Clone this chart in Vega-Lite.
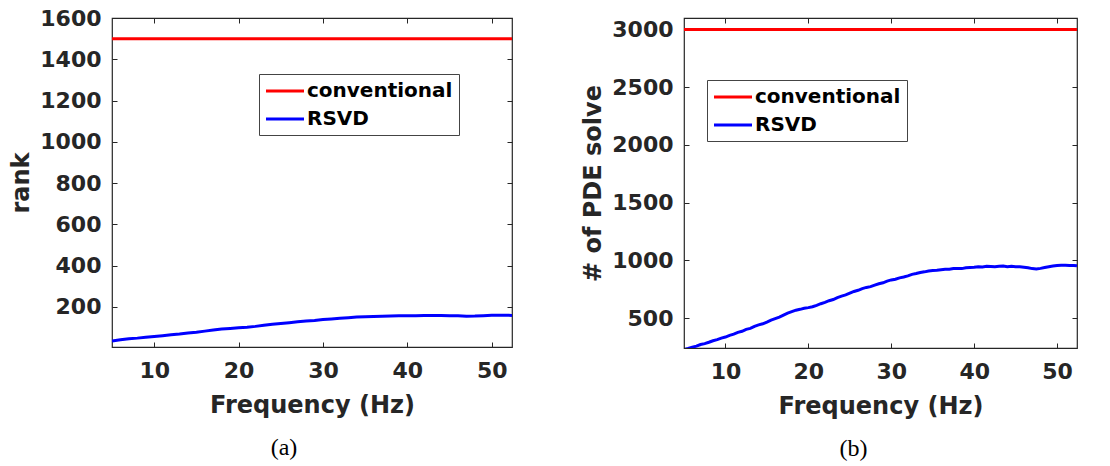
{
  "$schema": "https://vega.github.io/schema/vega-lite/v6.json",
  "background": "white",
  "padding": {"left": 9, "top": 6, "right": 5, "bottom": 5},
  "config": {
    "font": "DejaVu Sans",
    "view": {"stroke": "#262626", "strokeWidth": 1.2},
    "axis": {
      "labelFont": "DejaVu Sans", "labelFontWeight": "bold", "labelFontSize": 22, "labelColor": "#262626",
      "titleFont": "DejaVu Sans", "titleFontWeight": "bold", "titleFontSize": 24, "titleColor": "#262626",
      "grid": false, "domain": false, "tickColor": "#262626", "tickSize": -5, "tickWidth": 1, "labelPadding": 8, "format": "d"
    },
    "legend": {
      "orient": "none", "title": null, "symbolType": "M-2,0H2", "symbolSize": 361, "symbolStrokeWidth": 3,
      "symbolOffset": 9,
      "labelFont": "DejaVu Sans", "labelFontWeight": "bold", "labelFontSize": 20, "labelColor": "#000000",
      "labelOffset": 11, "strokeColor": "#444444", "fillColor": "white", "padding": 6, "rowPadding": 7
    }
  },
  "spacing": 65,
  "resolve": {"scale": {"color": "independent"}, "legend": {"color": "independent"}},
  "hconcat": [
    {
      "width": 400, "height": 329,
      "title": {"text": "(a)", "orient": "bottom", "font": "Liberation Serif", "fontSize": 24, "fontWeight": "normal", "color": "black", "offset": 19, "dx": -28},
      "data": {"values": [
        {"f": 5, "v": 1500, "s": "conventional"}, {"f": 52.4, "v": 1500, "s": "conventional"},
        {"f": 5, "v": 34, "s": "RSVD"}, {"f": 6, "v": 40, "s": "RSVD"}, {"f": 7, "v": 45, "s": "RSVD"}, {"f": 8, "v": 48, "s": "RSVD"},
        {"f": 9, "v": 52, "s": "RSVD"}, {"f": 10, "v": 56, "s": "RSVD"}, {"f": 11, "v": 60, "s": "RSVD"}, {"f": 12, "v": 64, "s": "RSVD"},
        {"f": 13, "v": 68, "s": "RSVD"}, {"f": 14, "v": 73, "s": "RSVD"}, {"f": 15, "v": 77, "s": "RSVD"}, {"f": 16, "v": 82, "s": "RSVD"},
        {"f": 17, "v": 87, "s": "RSVD"}, {"f": 18, "v": 92, "s": "RSVD"}, {"f": 19, "v": 95, "s": "RSVD"}, {"f": 20, "v": 98, "s": "RSVD"},
        {"f": 21, "v": 101, "s": "RSVD"}, {"f": 22, "v": 105, "s": "RSVD"}, {"f": 23, "v": 110, "s": "RSVD"}, {"f": 24, "v": 115, "s": "RSVD"},
        {"f": 25, "v": 119, "s": "RSVD"}, {"f": 26, "v": 123, "s": "RSVD"}, {"f": 27, "v": 127, "s": "RSVD"}, {"f": 28, "v": 131, "s": "RSVD"},
        {"f": 29, "v": 134, "s": "RSVD"}, {"f": 30, "v": 138, "s": "RSVD"}, {"f": 31, "v": 141, "s": "RSVD"}, {"f": 32, "v": 144, "s": "RSVD"},
        {"f": 33, "v": 147, "s": "RSVD"}, {"f": 34, "v": 150, "s": "RSVD"}, {"f": 35, "v": 152, "s": "RSVD"}, {"f": 36, "v": 153, "s": "RSVD"},
        {"f": 37, "v": 154, "s": "RSVD"}, {"f": 38, "v": 155, "s": "RSVD"}, {"f": 39, "v": 156, "s": "RSVD"}, {"f": 40, "v": 157, "s": "RSVD"},
        {"f": 41, "v": 157, "s": "RSVD"}, {"f": 42, "v": 158, "s": "RSVD"}, {"f": 43, "v": 158, "s": "RSVD"}, {"f": 44, "v": 158, "s": "RSVD"},
        {"f": 45, "v": 157, "s": "RSVD"}, {"f": 46, "v": 156, "s": "RSVD"}, {"f": 47, "v": 154, "s": "RSVD"}, {"f": 48, "v": 155, "s": "RSVD"},
        {"f": 49, "v": 157, "s": "RSVD"}, {"f": 50, "v": 159, "s": "RSVD"}, {"f": 51, "v": 159, "s": "RSVD"}, {"f": 52, "v": 159, "s": "RSVD"},
        {"f": 52.4, "v": 158, "s": "RSVD"}
      ]},
      "layer": [
        {
          "mark": {"type": "line", "strokeWidth": 3, "clip": true},
          "encoding": {
            "x": {"field": "f", "type": "quantitative", "title": "Frequency (Hz)",
                  "scale": {"domain": [5, 52.4], "nice": false, "zero": false},
                  "axis": {"values": [10, 20, 30, 40, 50], "labelPadding": 18, "titlePadding": 12}},
            "y": {"field": "v", "type": "quantitative", "title": "rank",
                  "scale": {"domain": [5, 1600], "nice": false, "zero": false},
                  "axis": {"values": [200, 400, 600, 800, 1000, 1200, 1400, 1600], "labelPadding": 16, "titlePadding": 6}},
            "color": {"field": "s", "type": "nominal", "sort": ["conventional", "RSVD"],
                      "scale": {"domain": ["conventional", "RSVD"], "range": ["#ff0000", "#0000ff"]},
                      "legend": {"legendX": 147, "legendY": 56}}
          }
        },
        {
          "mark": {"type": "point", "opacity": 0},
          "encoding": {
            "x": {"field": "f", "type": "quantitative", "title": null,
                  "axis": {"orient": "top", "labels": false, "values": [10, 20, 30, 40, 50]}},
            "y": {"field": "v", "type": "quantitative", "title": null,
                  "axis": {"orient": "right", "labels": false, "values": [200, 400, 600, 800, 1000, 1200, 1400, 1600]}}
          }
        }
      ],
      "resolve": {"axis": {"x": "independent", "y": "independent"}}
    },
    {
      "width": 393, "height": 330,
      "title": {"text": "(b)", "orient": "bottom", "font": "Liberation Serif", "fontSize": 24, "fontWeight": "normal", "color": "black", "offset": 19, "dx": -27},
      "data": {"values": [
        {"f": 5, "v": 3000, "s": "conventional"}, {"f": 52.4, "v": 3000, "s": "conventional"},
        {"f": 5, "v": 225, "s": "RSVD"}, {"f": 5.5, "v": 236, "s": "RSVD"}, {"f": 6, "v": 248, "s": "RSVD"}, {"f": 6.5, "v": 256, "s": "RSVD"},
        {"f": 7, "v": 270, "s": "RSVD"}, {"f": 7.5, "v": 278, "s": "RSVD"}, {"f": 8, "v": 290, "s": "RSVD"}, {"f": 8.5, "v": 303, "s": "RSVD"},
        {"f": 9, "v": 312, "s": "RSVD"}, {"f": 9.5, "v": 326, "s": "RSVD"}, {"f": 10, "v": 335, "s": "RSVD"}, {"f": 10.5, "v": 350, "s": "RSVD"},
        {"f": 11, "v": 360, "s": "RSVD"}, {"f": 11.5, "v": 376, "s": "RSVD"}, {"f": 12, "v": 385, "s": "RSVD"}, {"f": 12.5, "v": 402, "s": "RSVD"},
        {"f": 13, "v": 410, "s": "RSVD"}, {"f": 13.5, "v": 428, "s": "RSVD"}, {"f": 14, "v": 440, "s": "RSVD"}, {"f": 14.5, "v": 450, "s": "RSVD"},
        {"f": 15, "v": 465, "s": "RSVD"}, {"f": 15.5, "v": 482, "s": "RSVD"}, {"f": 16, "v": 495, "s": "RSVD"}, {"f": 16.5, "v": 508, "s": "RSVD"},
        {"f": 17, "v": 525, "s": "RSVD"}, {"f": 17.5, "v": 542, "s": "RSVD"}, {"f": 18, "v": 555, "s": "RSVD"}, {"f": 18.5, "v": 568, "s": "RSVD"},
        {"f": 19, "v": 575, "s": "RSVD"}, {"f": 19.5, "v": 584, "s": "RSVD"}, {"f": 20, "v": 590, "s": "RSVD"}, {"f": 20.5, "v": 598, "s": "RSVD"},
        {"f": 21, "v": 610, "s": "RSVD"}, {"f": 21.5, "v": 624, "s": "RSVD"}, {"f": 22, "v": 635, "s": "RSVD"}, {"f": 22.5, "v": 650, "s": "RSVD"},
        {"f": 23, "v": 660, "s": "RSVD"}, {"f": 23.5, "v": 677, "s": "RSVD"}, {"f": 24, "v": 690, "s": "RSVD"}, {"f": 24.5, "v": 700, "s": "RSVD"},
        {"f": 25, "v": 715, "s": "RSVD"}, {"f": 25.5, "v": 730, "s": "RSVD"}, {"f": 26, "v": 740, "s": "RSVD"}, {"f": 26.5, "v": 755, "s": "RSVD"},
        {"f": 27, "v": 765, "s": "RSVD"}, {"f": 27.5, "v": 772, "s": "RSVD"}, {"f": 28, "v": 785, "s": "RSVD"}, {"f": 28.5, "v": 797, "s": "RSVD"},
        {"f": 29, "v": 805, "s": "RSVD"}, {"f": 29.5, "v": 820, "s": "RSVD"}, {"f": 30, "v": 830, "s": "RSVD"}, {"f": 30.5, "v": 836, "s": "RSVD"},
        {"f": 31, "v": 848, "s": "RSVD"}, {"f": 31.5, "v": 855, "s": "RSVD"}, {"f": 32, "v": 865, "s": "RSVD"}, {"f": 32.5, "v": 878, "s": "RSVD"},
        {"f": 33, "v": 885, "s": "RSVD"}, {"f": 33.5, "v": 894, "s": "RSVD"}, {"f": 34, "v": 900, "s": "RSVD"}, {"f": 34.5, "v": 908, "s": "RSVD"},
        {"f": 35, "v": 912, "s": "RSVD"}, {"f": 35.5, "v": 914, "s": "RSVD"}, {"f": 36, "v": 918, "s": "RSVD"}, {"f": 36.5, "v": 922, "s": "RSVD"},
        {"f": 37, "v": 922, "s": "RSVD"}, {"f": 37.5, "v": 928, "s": "RSVD"}, {"f": 38, "v": 930, "s": "RSVD"}, {"f": 38.5, "v": 928, "s": "RSVD"},
        {"f": 39, "v": 935, "s": "RSVD"}, {"f": 39.5, "v": 938, "s": "RSVD"}, {"f": 40, "v": 940, "s": "RSVD"}, {"f": 40.5, "v": 945, "s": "RSVD"},
        {"f": 41, "v": 943, "s": "RSVD"}, {"f": 41.5, "v": 948, "s": "RSVD"}, {"f": 42, "v": 946, "s": "RSVD"}, {"f": 42.5, "v": 944, "s": "RSVD"},
        {"f": 43, "v": 948, "s": "RSVD"}, {"f": 43.5, "v": 950, "s": "RSVD"}, {"f": 44, "v": 945, "s": "RSVD"}, {"f": 44.5, "v": 948, "s": "RSVD"},
        {"f": 45, "v": 945, "s": "RSVD"}, {"f": 45.5, "v": 944, "s": "RSVD"}, {"f": 46, "v": 940, "s": "RSVD"}, {"f": 46.5, "v": 935, "s": "RSVD"},
        {"f": 47, "v": 928, "s": "RSVD"}, {"f": 47.5, "v": 925, "s": "RSVD"}, {"f": 48, "v": 930, "s": "RSVD"}, {"f": 48.5, "v": 938, "s": "RSVD"},
        {"f": 49, "v": 945, "s": "RSVD"}, {"f": 49.5, "v": 950, "s": "RSVD"}, {"f": 50, "v": 955, "s": "RSVD"}, {"f": 50.5, "v": 958, "s": "RSVD"},
        {"f": 51, "v": 958, "s": "RSVD"}, {"f": 51.5, "v": 955, "s": "RSVD"}, {"f": 52, "v": 955, "s": "RSVD"}, {"f": 52.4, "v": 952, "s": "RSVD"}
      ]},
      "layer": [
        {
          "mark": {"type": "line", "strokeWidth": 3, "clip": true},
          "encoding": {
            "x": {"field": "f", "type": "quantitative", "title": "Frequency (Hz)",
                  "scale": {"domain": [5, 52.4], "nice": false, "zero": false},
                  "axis": {"values": [10, 20, 30, 40, 50], "labelPadding": 18, "titlePadding": 12}},
            "y": {"field": "v", "type": "quantitative", "title": "# of PDE solve",
                  "scale": {"domain": [240, 3100], "nice": false, "zero": false},
                  "axis": {"values": [500, 1000, 1500, 2000, 2500, 3000], "labelPadding": 16, "titlePadding": 6}},
            "color": {"field": "s", "type": "nominal", "sort": ["conventional", "RSVD"],
                      "scale": {"domain": ["conventional", "RSVD"], "range": ["#ff0000", "#0000ff"]},
                      "legend": {"legendX": 23, "legendY": 62}}
          }
        },
        {
          "mark": {"type": "point", "opacity": 0},
          "encoding": {
            "x": {"field": "f", "type": "quantitative", "title": null,
                  "axis": {"orient": "top", "labels": false, "values": [10, 20, 30, 40, 50]}},
            "y": {"field": "v", "type": "quantitative", "title": null,
                  "axis": {"orient": "right", "labels": false, "values": [500, 1000, 1500, 2000, 2500, 3000]}}
          }
        }
      ],
      "resolve": {"axis": {"x": "independent", "y": "independent"}}
    }
  ]
}
